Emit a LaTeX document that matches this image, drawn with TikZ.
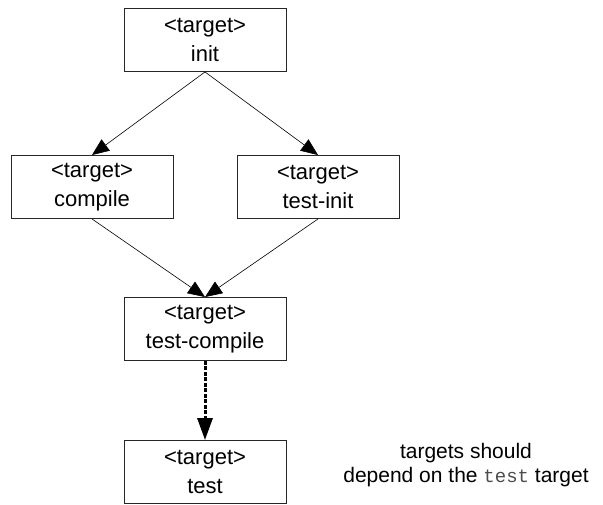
\documentclass[tikz,border=0pt]{standalone}
\usepackage{fontspec}
\setmainfont{Liberation Sans}
\setmonofont{Liberation Mono}
\usetikzlibrary{arrows.meta}
\tikzset{
  tgtbox/.style={draw=black!85, line width=0.9pt, minimum width=162pt, minimum height=63pt,
    align=center, inner sep=0pt, font=\fontsize{22}{29}\selectfont},
  dep/.style={-{Triangle[length=17pt,width=14pt]}, line width=0.6pt},
  weakdep/.style={-{Triangle[length=22pt,width=15pt]}, line width=3pt, dash pattern=on 4pt off 1.5pt}
}
\newcommand{\tgt}[4]{\node[tgtbox] (#1) at ( #2 , #3 ) {<target>\\#4};}

\begin{document}
\begin{tikzpicture}[x=1pt, y=-1pt]
        \useasboundingbox (0,0) rectangle (603,505);
        \clip (0,0) rectangle (603,505);
        % row 1
        \tgt{init}{205}{40}{init}
        % row 2
        \tgt{compile}{92}{187}{compile}
        \tgt{testinit}{318}{187}{test-init}
        % row 3
        \tgt{testcompile}{205}{329}{test-compile}
        % row 4
        \tgt{test}{205}{472}{test}
        % arrows
        \draw[dep] (init.south) -- (compile.north);
        \draw[dep] (init.south) -- (testinit.north);
        \draw[dep] (compile.south) -- (testcompile.north);
        \draw[dep] (testinit.south) -- (testcompile.north);
        \draw[weakdep] (testcompile.south) -- (test.north);
        % note
        \node[align=center, font=\fontsize{21}{24}\selectfont] (note) at (466,465)
          {targets should\\depend on the {\fontsize{19}{24}\selectfont\color{black!70}\texttt{test}} target};
    \end{tikzpicture}
\end{document}
